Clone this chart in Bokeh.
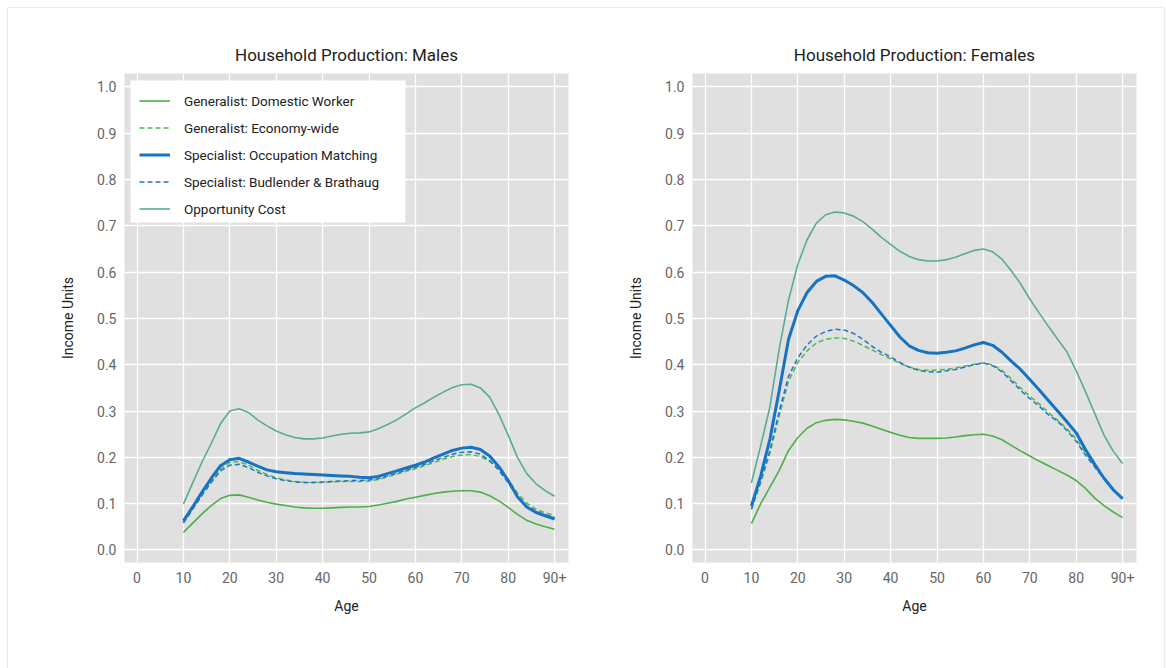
from bokeh.plotting import figure
from bokeh.layouts import row
from bokeh.models import Range1d, FixedTicker, Legend, LegendItem, BoxAnnotation
from bokeh.embed import file_html
from bokeh.resources import INLINE

# Age grid (years); the final point is the open 90+ group
ages = [10, 12, 14, 16, 18, 20, 22, 24, 26, 28, 30, 32, 34, 36, 38, 40, 42, 44, 46, 48,
        50, 52, 54, 56, 58, 60, 62, 64, 66, 68, 70, 72, 74, 76, 78, 80, 82, 84, 86, 88, 90]

x_ticks = [0, 10, 20, 30, 40, 50, 60, 70, 80, 90]
x_tick_labels = ["0", "10", "20", "30", "40", "50", "60", "70", "80", "90+"]
y_ticks = [0.0, 0.1, 0.2, 0.3, 0.4, 0.5, 0.6, 0.7, 0.8, 0.9, 1.0]

series_names = [
    "Generalist: Domestic Worker",
    "Generalist: Economy-wide",
    "Specialist: Occupation Matching",
    "Specialist: Budlender & Brathaug",
    "Opportunity Cost",
]

# ---- Males ----
male_domestic = [0.038, 0.058, 0.078, 0.096, 0.111, 0.118, 0.119, 0.114, 0.108, 0.103,
                 0.099, 0.096, 0.093, 0.091, 0.090, 0.090, 0.091, 0.092, 0.093, 0.093,
                 0.094, 0.097, 0.101, 0.105, 0.110, 0.114, 0.118, 0.122, 0.125, 0.127,
                 0.128, 0.128, 0.125, 0.117, 0.106, 0.092, 0.077, 0.064, 0.056, 0.050, 0.045]
male_economy = [0.060, 0.090, 0.120, 0.148, 0.175, 0.189, 0.191, 0.183, 0.172, 0.163,
                0.156, 0.151, 0.148, 0.146, 0.146, 0.146, 0.147, 0.148, 0.148, 0.148,
                0.149, 0.152, 0.158, 0.164, 0.170, 0.176, 0.182, 0.189, 0.196, 0.202,
                0.205, 0.206, 0.202, 0.192, 0.175, 0.152, 0.123, 0.101, 0.088, 0.080, 0.074]
male_occupation = [0.063, 0.093, 0.125, 0.155, 0.182, 0.195, 0.198, 0.190, 0.181, 0.173,
                   0.169, 0.167, 0.165, 0.164, 0.163, 0.162, 0.161, 0.160, 0.159, 0.157,
                   0.156, 0.159, 0.165, 0.171, 0.177, 0.183, 0.190, 0.199, 0.207, 0.215,
                   0.220, 0.222, 0.217, 0.203, 0.180, 0.150, 0.115, 0.093, 0.081, 0.074, 0.067]
male_budlender = [0.058, 0.088, 0.118, 0.146, 0.171, 0.183, 0.185, 0.178, 0.168, 0.160,
                  0.154, 0.150, 0.147, 0.146, 0.146, 0.147, 0.148, 0.149, 0.150, 0.150,
                  0.151, 0.154, 0.160, 0.166, 0.172, 0.178, 0.185, 0.193, 0.200, 0.207,
                  0.211, 0.212, 0.207, 0.193, 0.172, 0.145, 0.115, 0.095, 0.084, 0.076, 0.070]
male_opportunity = [0.099, 0.145, 0.190, 0.230, 0.273, 0.300, 0.305, 0.297, 0.281, 0.268,
                    0.257, 0.249, 0.243, 0.240, 0.240, 0.242, 0.246, 0.250, 0.252, 0.253,
                    0.255, 0.262, 0.271, 0.281, 0.294, 0.307, 0.318, 0.330, 0.341, 0.351,
                    0.357, 0.358, 0.350, 0.330, 0.293, 0.248, 0.200, 0.165, 0.143, 0.128, 0.116]

# ---- Females ----
female_domestic = [0.057, 0.100, 0.136, 0.172, 0.215, 0.243, 0.263, 0.275, 0.280, 0.282,
                   0.281, 0.278, 0.274, 0.268, 0.261, 0.254, 0.248, 0.243, 0.241, 0.241,
                   0.241, 0.242, 0.244, 0.247, 0.249, 0.250, 0.246, 0.238, 0.226, 0.214,
                   0.203, 0.192, 0.182, 0.172, 0.162, 0.150, 0.133, 0.112, 0.096, 0.082, 0.070]
female_economy = [0.088, 0.145, 0.210, 0.290, 0.365, 0.405, 0.430, 0.447, 0.455, 0.458,
                  0.457, 0.451, 0.442, 0.432, 0.422, 0.413, 0.403, 0.395, 0.390, 0.388,
                  0.388, 0.390, 0.393, 0.397, 0.401, 0.404, 0.400, 0.388, 0.370, 0.350,
                  0.332, 0.316, 0.297, 0.280, 0.262, 0.240, 0.210, 0.182, 0.155, 0.131, 0.112]
female_occupation = [0.095, 0.160, 0.240, 0.345, 0.455, 0.517, 0.556, 0.580, 0.591, 0.592,
                     0.583, 0.571, 0.556, 0.535, 0.510, 0.485, 0.460, 0.441, 0.431, 0.426,
                     0.425, 0.427, 0.430, 0.436, 0.443, 0.448, 0.442, 0.427, 0.408, 0.390,
                     0.368, 0.346, 0.323, 0.300, 0.277, 0.253, 0.217, 0.185, 0.155, 0.130, 0.111]
female_budlender = [0.088, 0.150, 0.215, 0.300, 0.375, 0.415, 0.443, 0.462, 0.472, 0.477,
                    0.475, 0.468, 0.455, 0.440, 0.427, 0.417, 0.405, 0.395, 0.388, 0.385,
                    0.384, 0.387, 0.390, 0.395, 0.400, 0.404, 0.398, 0.385, 0.365, 0.345,
                    0.327, 0.311, 0.292, 0.278, 0.258, 0.235, 0.205, 0.179, 0.153, 0.130, 0.111]
female_opportunity = [0.145, 0.225, 0.310, 0.435, 0.540, 0.617, 0.670, 0.706, 0.724, 0.730,
                      0.728, 0.721, 0.709, 0.693, 0.675, 0.660, 0.645, 0.634, 0.627, 0.624,
                      0.624, 0.627, 0.632, 0.640, 0.647, 0.650, 0.644, 0.628, 0.603, 0.575,
                      0.542, 0.512, 0.483, 0.455, 0.428, 0.387, 0.342, 0.295, 0.248, 0.213, 0.187]

FONT = "Roboto"

styles = [
    dict(line_color="#4daf4a", line_width=1.6, line_dash="solid"),
    dict(line_color="#4fb84a", line_width=1.5, line_dash="5 3"),
    dict(line_color="#1673c4", line_width=3.0, line_dash="solid"),
    dict(line_color="#1f77c4", line_width=1.5, line_dash="5 3"),
    dict(line_color="#5aaa98", line_width=1.6, line_dash="solid"),
]


def make_panel(title, series, border_left, border_right, with_legend):
    p = figure(
        title=title,
        frame_width=444, frame_height=489,
        min_border_left=border_left, min_border_right=border_right,
        min_border_top=65, min_border_bottom=106,
        x_range=Range1d(-2.7, 93.0), y_range=Range1d(-0.027, 1.029),
        output_backend="svg", toolbar_location=None,
        background_fill_color="#e0e0e0", border_fill_color="white",
        outline_line_color=None,
    )
    p.title.align = "center"
    p.title.text_font = FONT
    p.title.text_font_size = "17px"
    p.title.text_font_style = "normal"
    p.title.text_color = "#222222"
    p.title.standoff = 18

    for ax in (p.xaxis[0], p.yaxis[0]):
        ax.axis_line_color = None
        ax.major_tick_line_color = None
        ax.minor_tick_line_color = None
        ax.major_label_text_font = FONT
        ax.major_label_text_font_size = "14px"
        ax.major_label_text_color = "#666666"
        ax.axis_label_text_font = FONT
        ax.axis_label_text_font_size = "14px"
        ax.axis_label_text_font_style = "normal"
        ax.axis_label_text_color = "#222222"

    p.xaxis.ticker = FixedTicker(ticks=x_ticks)
    p.xaxis.major_label_overrides = {t: s for t, s in zip(x_ticks, x_tick_labels)}
    p.xaxis.axis_label = "Age"
    p.xaxis.major_label_standoff = 3
    p.xaxis.axis_label_standoff = 12

    p.yaxis.ticker = FixedTicker(ticks=y_ticks)
    p.yaxis.major_label_overrides = {t: f"{t:.1f}" for t in y_ticks}
    p.yaxis.axis_label = "Income Units"
    p.yaxis.major_label_standoff = 2
    p.yaxis.axis_label_standoff = 18

    for g in (p.xgrid[0], p.ygrid[0]):
        g.grid_line_color = "white"
        g.grid_line_width = 1.3
    p.xgrid.ticker = FixedTicker(ticks=x_ticks)
    p.ygrid.ticker = FixedTicker(ticks=y_ticks)

    renderers = []
    for values, st in zip(series, styles):
        r = p.line(ages, values, **st)
        renderers.append(r)

    if with_legend:
        # white panel behind the legend entries
        p.add_layout(BoxAnnotation(left=-1.41, right=57.87, top=1.0139, bottom=0.7072,
                                   fill_color="white", fill_alpha=1.0, line_color=None))
        items = [LegendItem(label=n, renderers=[r]) for n, r in zip(series_names, renderers)]
        leg = Legend(items=items, location="top_left")
        leg.label_text_font = FONT
        leg.label_text_font_size = "13.5px"
        leg.label_text_color = "#222222"
        leg.background_fill_alpha = 0.0
        leg.border_line_color = None
        leg.glyph_width = 31
        leg.glyph_height = 25
        leg.label_height = 25
        leg.label_standoff = 14
        leg.spacing = 2
        leg.padding = 0
        leg.margin = 15
        p.add_layout(leg, "center")
    return p


left = make_panel("Household Production: Males",
                  [male_domestic, male_economy, male_occupation, male_budlender, male_opportunity],
                  116, 12, True)
right = make_panel("Household Production: Females",
                   [female_domestic, female_economy, female_occupation, female_budlender, female_opportunity],
                   112, 28, False)

layout = row(left, right, margin=(7, 0, 0, 7),
             styles={"border": "1px solid #e4eeee", "background-color": "white"})

open("out.html", "w").write(file_html(layout, INLINE))
